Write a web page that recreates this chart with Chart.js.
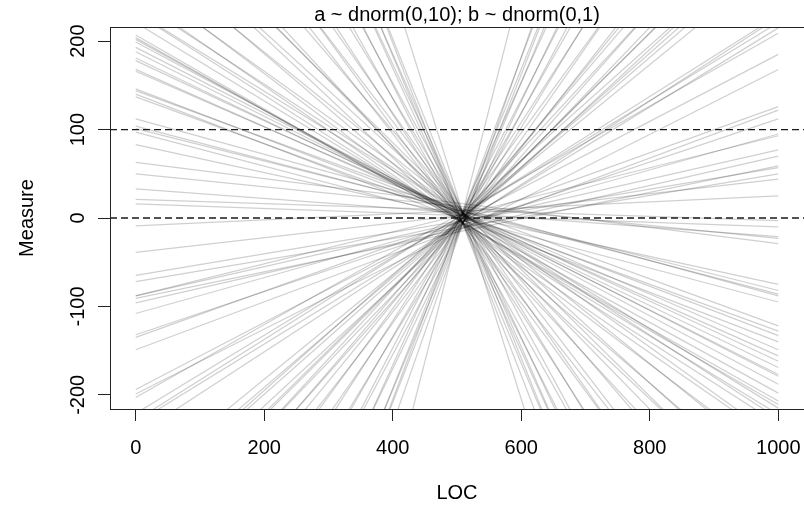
<!DOCTYPE html>
<html>
<head>
<meta charset="utf-8">
<script src="https://cdn.jsdelivr.net/npm/chart.js@4.4.1/dist/chart.umd.min.js"></script>
<style>
  html, body { margin: 0; padding: 0; background: #fff; }
  #wrap { width: 804px; height: 506px; }
</style>
</head>
<body>
<div id="wrap"><canvas id="c" width="804" height="506"></canvas></div>
<script>
// ---- data ----
const titleText = "a ~ dnorm(0,10); b ~ dnorm(0,1)";
const xLabel = "LOC";
const yLabel = "Measure";
const xTicks = [0, 200, 400, 600, 800, 1000];
const yTicks = [-200, -100, 0, 100, 200];
const refLevels = [0, 100];          // dashed horizontal reference lines
const locRange = [0, 1000];          // LOC span of every prior line

// Measure of each prior line at LOC = 0
const measureAtStart = [
  207, 204, 202, 199, 193, 188, 181, 178, 168, 166, 146, 144, 140, 137, 112, 104, 101, 97, 83, 63, 50, 33, 21, 16,
  -9, -39, -65, -72, -88, -88, -91, -96, -108, -132, -135, -149, -194, -199, -203,
  -1448, -1064, -978, -950, -915, -890, -806, -775, -709, -700, -640, -611, -565, -534, -500, -477, -450, -428, -421, -395, -390, -368, -364, -347, -325, -328, -316, -301, -246, -229, -232, -221,
  1186, 950, 925, 879, 848, 809, 792, 724, 688, 655, 611, 566, 534, 500, 488, 466, 438, 395, 379, 372, 341, 343, 310, 305, 273, 270, 250, 246, 232, 233, 221
];
// Measure of the same lines at LOC = 1000
const measureAtEnd = [
  -211, -207, -198, -188, -179, -177, -169, -162, -156, -149, -133, -122, -140, -128, -88, -86, -82, -95, -75, -29, -23, -21, -3, -10,
  25, 44, 57, 50, 77, 93, 59, 70, 95, 112, 126, 122, 185, 168, 209,
  1409, 1013, 954, 904, 891, 849, 793, 736, 696, 664, 625, 578, 557, 504, 494, 450, 435, 420, 397, 391, 367, 354, 352, 325, 325, 315, 306, 292, 227, 229, 215, 221,
  -1132, -930, -881, -860, -808, -790, -753, -710, -650, -645, -578, -556, -504, -494, -459, -461, -410, -391, -365, -345, -341, -319, -311, -282, -275, -250, -253, -227, -233, -215, -222
];

// ---- build datasets ----
const lineSets = measureAtStart.map((y0, i) => ({
  data: [{ x: locRange[0], y: y0 }, { x: locRange[1], y: measureAtEnd[i] }],
  borderColor: 'rgba(0,0,0,0.19)',
  borderWidth: 1.25,
  pointRadius: 0,
  fill: false,
  clip: 0
}));

const X_MIN = -40, X_MAX = 1040, Y_MIN = -216, Y_MAX = 216;

const refSets = refLevels.map(v => ({
  data: [{ x: X_MIN, y: v }, { x: X_MAX, y: v }],
  borderColor: '#1a1a1a',
  borderWidth: 1.3,
  borderDash: [7, 4],
  pointRadius: 0,
  fill: false,
  clip: 0
}));

const FONT = '"Liberation Sans", Arial, Helvetica, sans-serif';

const boxPlugin = {
  id: 'rbox',
  afterDraw(chart) {
    const { ctx, chartArea: a } = chart;
    ctx.save();
    ctx.strokeStyle = '#222';
    ctx.lineWidth = 1;
    ctx.strokeRect(Math.round(a.left) + 0.5, Math.round(a.top) + 0.5,
                   Math.round(a.right - a.left) + 2, Math.round(a.bottom - a.top));
    ctx.restore();
  }
};

new Chart(document.getElementById('c'), {
  type: 'line',
  data: { datasets: [...refSets, ...lineSets] },
  plugins: [boxPlugin],
  options: {
    responsive: false,
    animation: false,
    events: [],
    layout: { padding: { left: 0, right: 0, top: 0, bottom: 0 } },
    plugins: {
      legend: { display: false },
      tooltip: { enabled: false },
      title: {
        display: true,
        text: titleText,
        fullSize: false,
        color: '#000',
        font: { family: FONT, size: 20, weight: 'normal', lineHeight: 1.2 },
        padding: { top: 3, bottom: 0 }
      }
    },
    scales: {
      x: {
        type: 'linear',
        min: X_MIN, max: X_MAX,
        afterBuildTicks: s => { s.ticks = xTicks.map(v => ({ value: v })); },
        afterFit: s => { s.height = 97; s.paddingLeft = 0; s.paddingRight = 0; },
        grid: { drawOnChartArea: false, drawTicks: true, tickLength: 12, color: '#222' },
        border: { display: false },
        ticks: {
          color: '#000', padding: 15, maxRotation: 0, minRotation: 0,
          font: { family: FONT, size: 20, lineHeight: 1.2 },
          callback: v => String(v)
        },
        title: {
          display: true, text: xLabel, color: '#000',
          font: { family: FONT, size: 20, lineHeight: 1.2 },
          padding: { top: 0, bottom: 1 }
        }
      },
      y: {
        type: 'linear',
        min: Y_MIN, max: Y_MAX,
        afterBuildTicks: s => { s.ticks = yTicks.map(v => ({ value: v })); },
        afterFit: s => { s.width = 110; s.paddingTop = 0; s.paddingBottom = 0; },
        grid: { drawOnChartArea: false, drawTicks: true, tickLength: 12, color: '#222' },
        border: { display: false },
        ticks: {
          color: '#000', padding: 0, minRotation: 90, maxRotation: 90,
          crossAlign: 'center',
          font: { family: FONT, size: 20, lineHeight: 1.2 },
          callback: v => String(v)
        },
        title: {
          display: true, text: yLabel, color: '#000',
          font: { family: FONT, size: 20, lineHeight: 1.2 },
          padding: { top: 15, bottom: 0 }
        }
      }
    }
  }
});
</script>
</body>
</html>
